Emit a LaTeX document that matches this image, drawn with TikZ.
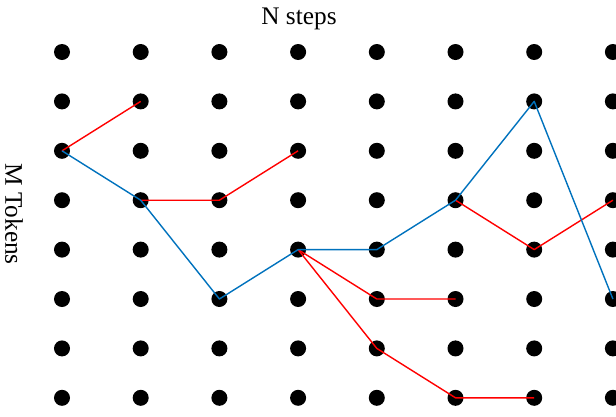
\documentclass[tikz,border=0pt]{standalone}
\usepackage{fontspec}
\setmainfont{Liberation Serif}
\usepackage{tikz}
\definecolor{pathblue}{RGB}{0,114,189}

\begin{document}
\begin{tikzpicture}[x=0.025cm, y=-0.025cm,
  dot/.style={circle, fill=black, inner sep=0pt, minimum size=0.4cm},
  label/.style={font=\fontsize{18}{22}\selectfont},
  best/.style={draw=pathblue, line width=1pt, line join=round},
  cand/.style={draw=red, line width=1pt, line join=round}]
  \clip (0,0) rectangle (616,416);
  % grid of tokens
  \foreach \c in {1,...,8}
    \foreach \r in {1,...,8}
      \node[dot] (d-\c-\r) at ({62+78.7*(\c-1)}, {52+49.4*(\r-1)}) {};
  \node[label, anchor=base] (steps) at (299,24) {N steps};
  \node[label, rotate=-90] (tokens) at (14,214) {M Tokens};
  % candidate paths
  \draw[cand] (d-1-3.center) -- (d-2-2.center);
  \draw[cand] (d-2-4.center) -- (d-3-4.center) -- (d-4-3.center);
  \draw[cand] (d-4-5.center) -- (d-5-6.center) -- (d-6-6.center);
  \draw[cand] (d-4-5.center) -- (d-5-7.center) -- (d-6-8.center) -- (d-7-8.center);
  \draw[cand] (d-6-4.center) -- (d-7-5.center) -- (d-8-4.center);
  % chosen path
  \draw[best] (d-1-3.center) -- (d-2-4.center) -- (d-3-6.center) -- (d-4-5.center)
    -- (d-5-5.center) -- (d-6-4.center) -- (d-7-2.center) -- (d-8-6.center);
\end{tikzpicture}
\end{document}
